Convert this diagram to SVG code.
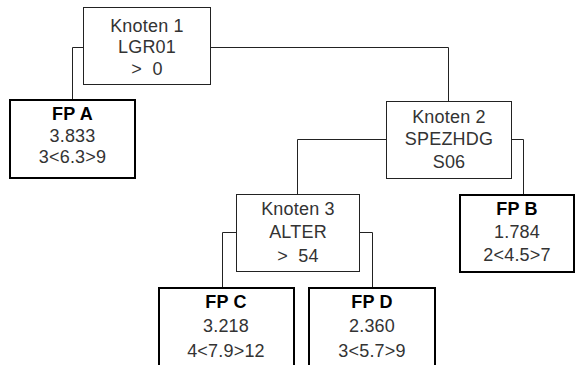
<svg xmlns="http://www.w3.org/2000/svg" width="576" height="365" viewBox="0 0 576 365">
<style>
.k{fill:#fff;stroke:#222;stroke-width:1}
.f{fill:#fff;stroke:#000;stroke-width:2}
.c{fill:none;stroke:#222;stroke-width:1}
text{font-family:"Liberation Sans",Arial,sans-serif;font-size:18px;fill:#333;text-anchor:middle;letter-spacing:0.2px}
.b{font-weight:bold;fill:#000}
</style>
<rect width="576" height="365" fill="#fff"/>
<g id="connectors">
<polyline class="c" points="83.5,47.5 72.5,47.5 72.5,100"/>
<polyline class="c" points="210.5,47.5 448.5,47.5 448.5,101.5"/>
<polyline class="c" points="386.5,139.5 297.5,139.5 297.5,194.5"/>
<polyline class="c" points="511.5,139.5 523.5,139.5 523.5,194"/>
<polyline class="c" points="236.5,232.5 222.5,232.5 222.5,287"/>
<polyline class="c" points="359.5,232.5 372.5,232.5 372.5,287"/>
</g>
<g id="knoten1">
<rect class="k" x="83.5" y="7.5" width="127" height="77"/>
<text x="147" y="32">Knoten 1</text>
<text x="147" y="53">LGR01</text>
<text x="147" y="75">&gt;&#160;&#160;0</text>
</g>
<g id="fpA">
<rect class="f" x="10" y="100" width="125" height="78"/>
<text class="b" x="72.5" y="120">FP A</text>
<text x="72.5" y="142">3.833</text>
<text x="72.5" y="163">3&lt;6.3&gt;9</text>
</g>
<g id="knoten2">
<rect class="k" x="386.5" y="101.5" width="125" height="77"/>
<text x="449" y="123">Knoten 2</text>
<text x="449" y="145">SPEZHDG</text>
<text x="449" y="168">S06</text>
</g>
<g id="fpB">
<rect class="f" x="460" y="195" width="114" height="77"/>
<text class="b" x="517" y="215">FP B</text>
<text x="517" y="238">1.784</text>
<text x="517" y="261">2&lt;4.5&gt;7</text>
</g>
<g id="knoten3">
<rect class="k" x="236.5" y="194.5" width="123" height="77"/>
<text x="298" y="215">Knoten 3</text>
<text x="298" y="238">ALTER</text>
<text x="298" y="262">&gt;&#160;&#160;54</text>
</g>
<g id="fpC">
<rect class="f" x="159" y="288" width="135" height="90"/>
<text class="b" x="226" y="308">FP C</text>
<text x="226" y="332">3.218</text>
<text x="226" y="357">4&lt;7.9&gt;12</text>
</g>
<g id="fpD">
<rect class="f" x="309" y="288" width="126" height="90"/>
<text class="b" x="372" y="308">FP D</text>
<text x="372" y="332">2.360</text>
<text x="372" y="357">3&lt;5.7&gt;9</text>
</g>
</svg>
